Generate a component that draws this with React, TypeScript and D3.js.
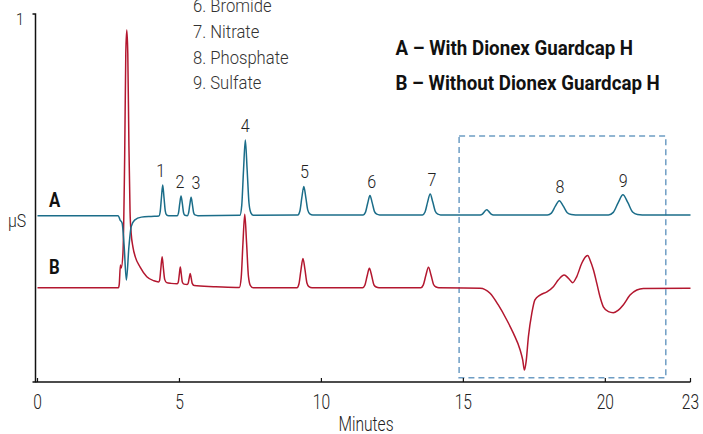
import React from "react";
import * as d3 from "d3";

// ---------- data (minutes, µS relative units) ----------
const xTicks = [0, 5, 10, 15, 20, 23];
const yTickLabel = "1";

// Trace A – with Dionex Guardcap H
const traceA: [number, number][] = [
  [0, 0.449], [2.84, 0.449], [2.91, 0.437], [2.98, 0.429], [3.05, 0.369], [3.13, 0.273],
  [3.22, 0.364], [3.30, 0.419], [3.42, 0.437], [3.66, 0.445], [4.0, 0.447], [4.275, 0.448],
  [4.32, 0.459], [4.365, 0.498], [4.41, 0.533], [4.455, 0.499], [4.50, 0.462], [4.545, 0.451], [4.62, 0.449],
  [4.92, 0.449], [4.965, 0.456], [5.01, 0.482], [5.055, 0.503], [5.10, 0.483], [5.145, 0.457], [5.19, 0.450],
  [5.275, 0.449], [5.32, 0.456], [5.365, 0.479], [5.41, 0.499], [5.455, 0.480], [5.50, 0.457], [5.545, 0.451], [5.65, 0.449],
  [7.13, 0.450], [7.194, 0.477], [7.257, 0.574], [7.32, 0.656], [7.383, 0.576], [7.45, 0.483], [7.52, 0.456], [7.6, 0.450],
  [9.17, 0.451], [9.24, 0.461], [9.31, 0.498], [9.38, 0.529], [9.45, 0.499], [9.52, 0.464], [9.59, 0.454], [9.7, 0.451],
  [11.47, 0.451], [11.55, 0.458], [11.63, 0.483], [11.71, 0.504], [11.79, 0.484], [11.87, 0.460], [11.95, 0.453], [12.05, 0.451],
  [13.56, 0.451], [13.65, 0.459], [13.74, 0.486], [13.83, 0.508], [13.92, 0.487], [14.01, 0.461], [14.10, 0.453], [14.2, 0.451],
  [15.59, 0.451], [15.67, 0.453], [15.74, 0.460], [15.82, 0.465], [15.90, 0.460], [15.98, 0.453], [16.06, 0.451],
  [17.96, 0.451], [18.10, 0.456], [18.24, 0.475], [18.38, 0.490], [18.52, 0.475], [18.66, 0.457], [18.80, 0.452], [18.95, 0.451],
  [20.11, 0.451], [20.28, 0.458], [20.45, 0.484], [20.62, 0.506], [20.79, 0.485], [20.96, 0.459], [21.13, 0.452], [21.3, 0.451],
  [23, 0.451],
];

// Trace B – without Dionex Guardcap H
const traceB: [number, number][] = [
  [0, 0.252], [2.85, 0.252], [2.88, 0.262], [2.92, 0.314], [2.95, 0.306], [3.01, 0.347], [3.07, 0.607],
  [3.11, 0.893], [3.145, 0.956], [3.18, 0.893], [3.22, 0.64], [3.26, 0.46], [3.30, 0.40], [3.36, 0.364],
  [3.45, 0.335], [3.61, 0.309], [3.85, 0.282], [4.10, 0.271], [4.26, 0.268],
  [4.30, 0.272], [4.345, 0.305], [4.39, 0.337], [4.435, 0.305], [4.48, 0.275], [4.55, 0.266], [4.7, 0.264],
  [4.92, 0.263], [4.96, 0.268], [4.995, 0.289], [5.03, 0.309], [5.065, 0.289], [5.10, 0.268], [5.16, 0.262],
  [5.27, 0.261], [5.31, 0.265], [5.345, 0.279], [5.38, 0.291], [5.415, 0.278], [5.45, 0.264], [5.52, 0.258], [6.2, 0.255], [7.0, 0.253],
  [7.11, 0.253], [7.174, 0.279], [7.237, 0.375], [7.30, 0.453], [7.363, 0.376], [7.43, 0.283], [7.50, 0.258], [7.6, 0.252],
  [9.14, 0.252], [9.21, 0.263], [9.28, 0.301], [9.35, 0.332], [9.42, 0.302], [9.49, 0.265], [9.56, 0.255], [9.67, 0.252],
  [11.45, 0.252], [11.53, 0.259], [11.61, 0.284], [11.69, 0.305], [11.77, 0.285], [11.85, 0.260], [11.93, 0.254], [12.03, 0.252],
  [13.50, 0.252], [13.59, 0.260], [13.68, 0.286], [13.77, 0.308], [13.86, 0.287], [13.95, 0.261], [14.04, 0.254], [14.14, 0.252],
  [15.59, 0.251], [15.94, 0.237], [16.23, 0.205], [16.53, 0.164], [16.76, 0.128], [17.00, 0.082], [17.09, 0.055],
  [17.15, 0.027], [17.21, 0.050], [17.29, 0.118], [17.41, 0.182], [17.52, 0.219], [17.70, 0.232], [17.94, 0.241],
  [18.17, 0.255], [18.34, 0.273], [18.55, 0.287], [18.70, 0.278], [18.85, 0.266], [18.99, 0.282], [19.17, 0.319],
  [19.31, 0.337], [19.38, 0.340], [19.46, 0.328], [19.58, 0.301], [19.70, 0.264], [19.81, 0.228], [19.93, 0.200],
  [20.11, 0.187], [20.28, 0.184], [20.46, 0.191], [20.63, 0.205], [20.87, 0.232], [21.11, 0.246], [21.34, 0.250],
  [23, 0.251],
];

// Peak labels (on trace A)
const peakNames = ["1", "2", "3", "4", "5", "6", "7", "8", "9"];
const peakLabelTimes = [4.34, 5.02, 5.58, 7.32, 9.40, 11.77, 13.89, 18.40, 20.63];
const peakApex = [0.533, 0.503, 0.499, 0.656, 0.529, 0.504, 0.508, 0.490, 0.506];

const analyteList = ["6. Bromide", "7. Nitrate", "8. Phosphate", "9. Sulfate"];
const traceLegend = ["A – With Dionex Guardcap H", "B – Without Dionex Guardcap H"];
const traceNames = ["A", "B"];
const traceNameLevels = [0.451, 0.251];

// Highlighted region (minutes, signal)
const boxTime = [14.85, 22.13];
const boxSignal = [0.006, 0.667];

// ---------- chart ----------
const W = 703;
const H = 434;
const FONT = "Roboto, 'Liberation Sans', Arial, sans-serif";
const TEAL = "#1b6d89";
const RED = "#b3172f";
const BOX = "#6e9dc4";

export default function App() {
  const x = d3.scaleLinear().domain([0, 23]).range([37.5, 690.5]);
  const y = d3.scaleLinear().domain([0, 1]).range([380, 14]);
  const line = d3
    .line<[number, number]>()
    .x((d) => x(d[0]))
    .y((d) => y(d[1]))
    .curve(d3.curveMonotoneX);

  const axisY = 382;
  const yAxisX = 35.5;

  const T = (
    tx: number,
    ty: number,
    txt: string,
    opts: { size: number; sx: number; anchor?: string; weight?: number; fill?: string }
  ) => (
    <text
      key={txt + tx + ty}
      transform={`translate(${tx},${ty}) scale(${opts.sx},1)`}
      textAnchor={opts.anchor || "start"}
      fontSize={opts.size}
      fontWeight={opts.weight || 400}
      fill={opts.fill || "#222"}
      fontFamily={FONT}
    >
      {txt}
    </text>
  );

  return (
    <svg
      width={W}
      height={H}
      style={{ position: "absolute", left: 0, top: 0, background: "#fff" }}
    >
      {/* dashed box */}
      <rect
        x={x(boxTime[0])}
        y={y(boxSignal[1])}
        width={x(boxTime[1]) - x(boxTime[0])}
        height={y(boxSignal[0]) - y(boxSignal[1])}
        fill="none"
        stroke={BOX}
        strokeWidth={1.5}
        strokeDasharray="6 4"
      />

      {/* traces */}
      <path d={line(traceB) || ""} fill="none" stroke={RED} strokeWidth={1.5} strokeLinejoin="round" />
      <path d={line(traceA) || ""} fill="none" stroke={TEAL} strokeWidth={1.5} strokeLinejoin="round" />

      {/* y axis */}
      <path
        d={`M${yAxisX - 3},${y(1)}H${yAxisX}V${axisY}H${yAxisX - 3}`}
        fill="none"
        stroke="#111"
        strokeWidth={1.5}
      />
      {T(20, 25, yTickLabel, { size: 17, sx: 0.85, anchor: "middle", weight: 300 })}
      {T(8, 227, "µS", { size: 18, sx: 0.88, weight: 300 })}

      {/* x axis */}
      <line x1={yAxisX} x2={x(23)} y1={axisY} y2={axisY} stroke="#111" strokeWidth={1.5} />
      {xTicks.map((t) => (
        <line key={"tk" + t} x1={x(t)} x2={x(t)} y1={axisY} y2={axisY - 4} stroke="#111" strokeWidth={1.2} />
      ))}
      {xTicks.map((t) => T(x(t), 408.5, String(t), { size: 19.5, sx: 0.8, anchor: "middle", weight: 300 }))}
      {T((x(0) + x(23)) / 2 + 2, 431, "Minutes", { size: 19.5, sx: 0.8, anchor: "middle", weight: 300 })}

      {/* peak labels */}
      {peakNames.map((p, i) =>
        T(x(peakLabelTimes[i]), y(peakApex[i]) - 8, p, { size: 17.5, sx: 0.92, anchor: "middle", weight: 300 })
      )}

      {/* trace names */}
      {traceNames.map((n, i) =>
        T(49, y(traceNameLevels[i]) - (i === 0 ? 8 : 14), n, { size: 19.5, sx: 0.86, weight: 700, fill: "#111" })
      )}

      {/* analyte list */}
      {analyteList.map((a, i) => T(193, 12 + i * 25.8, a, { size: 18.5, sx: 0.9, weight: 300, fill: "#333" }))}

      {/* trace legend */}
      {traceLegend.map((a, i) => T(395.5, 55 + i * 34.5, a, { size: 19.5, sx: 0.96, weight: 700, fill: "#111" }))}
    </svg>
  );
}
